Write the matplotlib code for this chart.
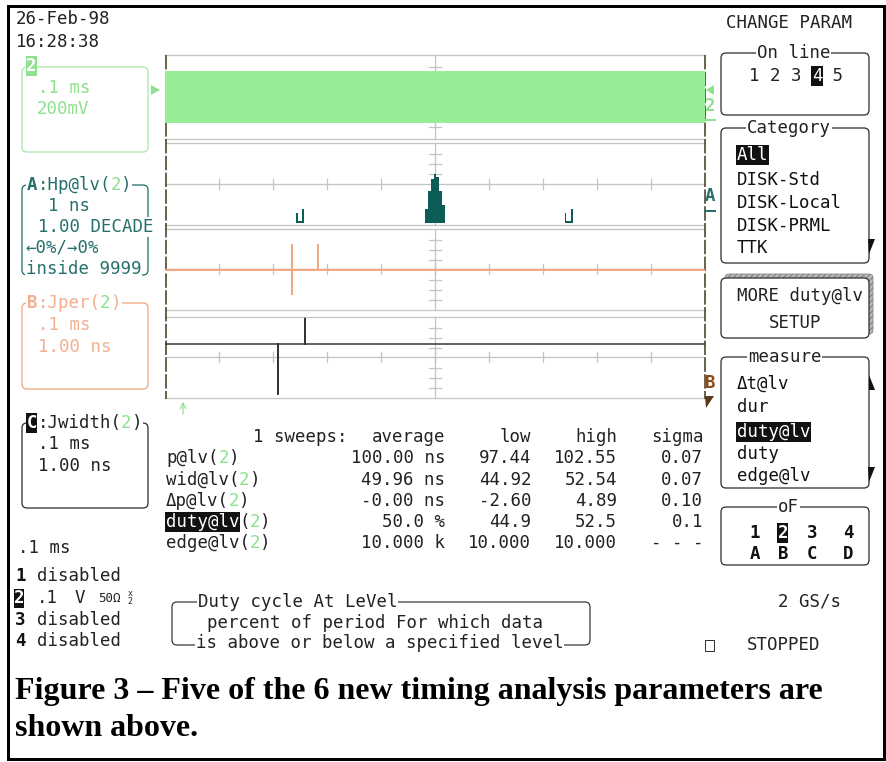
import matplotlib
matplotlib.use('Agg')
import matplotlib.pyplot as plt
from matplotlib.patches import Rectangle, FancyBboxPatch, Polygon

W, H, DPI = 887, 762, 100

# ---------------- data ----------------
date_text = "26-Feb-98"
time_text = "16:28:38"

# channel 2 trace envelope (mV) across the 1 ms record (dense 10 MHz signal -> band)
ch2_time_ms = [0.0, 1.0]
ch2_high_mV = [250, 250]
ch2_low_mV = [-250, -250]

# A: histogram of period @ level (ns): bin centres and bar heights (display units)
hist_bins_ns = [97.44, 97.47, 97.50, 97.53, 97.56,
                99.835, 99.89, 99.945, 100.0, 100.055, 100.11, 100.165,
                102.42, 102.45, 102.48, 102.51, 102.54]
hist_heights = [10, 2, 2, 2, 14,
                14, 32, 44, 49, 46, 32, 18,
                10, 2, 2, 2, 14]
hist_widths = [0.03] * 5 + [0.055] * 7 + [0.03] * 5

# B: period jitter track (ns) vs time (ms)
jper_time_ms = [0.0, 0.2349, 0.2350, 0.2351, 0.2352, 0.2829, 0.2830, 0.2831, 1.0]
jper_ns = [0.0, 0.0, 2.55, -2.56, 0.0, 0.0, 2.55, 0.0, 0.0]

# C: width jitter track (ns) vs time (ms)
jwid_time_ms = [0.0, 0.2089, 0.2090, 0.2091, 0.2589, 0.2590, 0.2591, 1.0]
jwid_ns = [0.0, 0.0, -5.04, 0.0, 0.0, 2.58, 0.0, 0.0]

# measurement table
param_names = ["p@lv", "wid@lv", "Δp@lv", "duty@lv", "edge@lv"]
col_average = ["100.00 ns", "49.96 ns", "-0.00 ns", "50.0 %", "10.000 k"]
col_low = ["97.44", "44.92", "-2.60", "44.9", "10.000"]
col_high = ["102.55", "52.54", "4.89", "52.5", "10.000"]
col_sigma = ["0.07", "0.07", "0.10", "0.1", "- - -"]

category_items = ["All", "DISK-Std", "DISK-Local", "DISK-PRML", "TTK"]
measure_items = ["Δt@lv", "dur", "duty@lv", "duty", "edge@lv"]
channel_lines = ["disabled", None, "disabled", "disabled"]

caption_lines = ["Figure 3 \u2013 Five of the 6 new timing analysis parameters are",
                 "shown above."]

# ---------------- style ----------------
GREEN_BAND = '#98ee98'
GREEN = '#8fe08f'
TEAL = '#0b5d55'
TEAL_TXT = '#27706c'
SALMON = '#f0a880'
SALMON_TXT = '#f2b08e'
BROWN = '#8a4a1c'
GRID = '#c4c4c4'
EDGE = '#4a4026'
FS = 12.5
MONO = 'DejaVu Sans Mono'
PX = 0.72  # points per pixel at 100 dpi

fig = plt.figure(figsize=(W / DPI, H / DPI), dpi=DPI, facecolor='white')


def full_axes(z):
    a = fig.add_axes([0, 0, 1, 1], zorder=z)
    a.set_xlim(0, W)
    a.set_ylim(H, 0)
    a.axis('off')
    a.patch.set_alpha(0)
    return a


bg = full_axes(0)
ov = full_axes(3)


def cw(fs=FS):
    return 0.602 * fs * DPI / 72


def mono(x, y, parts, fs=FS, ha='left', weight='normal', white_bg=False):
    total = sum(len(p[0]) for p in parts)
    c = cw(fs)
    if ha == 'right':
        cx = x - total * c
    elif ha == 'center':
        cx = x - total * c / 2
    else:
        cx = x
    for p in parts:
        txt, col = p[0], p[1]
        inv = len(p) > 2 and p[2]
        wt = p[3] if len(p) > 3 else weight
        w = len(txt) * c
        if inv:
            ov.add_patch(Rectangle((cx - 1, y - 10), w + 2, 20, fc=col, ec='none', zorder=4))
            ov.text(cx, y, txt, color='white', fontsize=fs, family=MONO, weight=wt,
                    va='center', ha='left', zorder=5)
        else:
            kw = {}
            if white_bg:
                kw['bbox'] = dict(fc='white', ec='none', pad=0.5)
            ov.text(cx, y, txt, color=col, fontsize=fs, family=MONO, weight=wt,
                    va='center', ha='left', zorder=5, **kw)
        cx += w


def rbox(x0, y0, x1, y1, ec, lw=1.3, fc='none', z=2):
    ov.add_patch(FancyBboxPatch((x0, y0), x1 - x0, y1 - y0,
                                boxstyle='round,pad=0,rounding_size=5',
                                ec=ec, fc=fc, lw=lw * PX, zorder=z))


# ---------------- outer frame ----------------
ov.add_patch(Rectangle((8, 6), 876, 753, fc='none', ec='black', lw=3 * PX, zorder=6))

# ---------------- graticule panels ----------------
X0, X1, XC = 165, 705, 435
panels = [(55, 139), (143, 225), (229, 310), (317, 398)]
for (ya, yb) in panels:
    for yy in (ya, yb):
        bg.plot([X0, X1], [yy, yy], color=GRID, lw=1.3 * PX)
    bg.plot([XC, XC], [ya, yb], color=GRID, lw=1.3 * PX)
    yc = (ya + yb) / 2
    for k in (1, 2, 3, 4):
        for s in (-1, 1):
            ty = yc + s * 10 * k
            if ya + 3 < ty < yb - 3:
                bg.plot([XC - 6, XC + 6], [ty, ty], color=GRID, lw=1.3 * PX)

# centre horizontal lines with division ticks (panels 2-4)
for (ya, yb), yc in zip(panels[1:], [184, 269, 357]):
    bg.plot([X0, X1], [yc, yc], color=GRID, lw=1.3 * PX)
    for k in range(1, 10):
        xx = X0 + 54 * k
        bg.plot([xx, xx], [yc - 5, yc + 5], color=GRID, lw=1.3 * PX)

# dashed side borders
for xx in (166, 705):
    bg.plot([xx, xx], [55, 399], color=EDGE, lw=1.6 * PX, dashes=(9, 1.5))


def panel_axes(ya, yb):
    a = fig.add_axes([X0 / W, 1 - yb / H, (X1 - X0) / W, (yb - ya) / H], zorder=1)
    a.axis('off')
    a.patch.set_alpha(0)
    return a


# panel 1: channel 2 band
a1 = panel_axes(*panels[0])
a1.fill_between(ch2_time_ms, ch2_low_mV, ch2_high_mV, color=GREEN_BAND, lw=0)
a1.set_xlim(0, 1)
a1.set_ylim(-400, 400)

# panel 2: histogram
a2 = panel_axes(*panels[1])
a2.bar(hist_bins_ns, hist_heights, width=hist_widths, color=TEAL, lw=0, align='center')
a2.set_xlim(95, 105)
a2.set_ylim(-2, 80)

# panel 3: Jper track
a3 = panel_axes(*panels[2])
a3.plot(jper_time_ms, jper_ns, color=SALMON, lw=1.3 * PX, solid_joinstyle='miter')
a3.plot([0, 1], [0, 0], color=SALMON, lw=2.0 * PX)
a3.set_xlim(0, 1)
a3.set_ylim(-4.05, 4.05)

# panel 4: Jwidth track
a4 = panel_axes(*panels[3])
a4.plot(jwid_time_ms, jwid_ns, color='#333333', lw=1.5 * PX)
a4.set_xlim(0, 1)
a4.set_ylim(-5.4, 2.7)

# trace markers
ov.add_patch(Polygon([(151, 85), (160, 90), (151, 95)], closed=True, fc=GREEN, ec='none'))
ov.add_patch(Polygon([(714, 85), (706, 90), (714, 95)], closed=True, fc=GREEN, ec='none'))
mono(705, 106, [("2", GREEN)], weight='bold')
ov.plot([705, 715], [120, 120], color=GREEN, lw=2 * PX)
mono(705, 196, [("A", TEAL_TXT)], weight='bold')
ov.plot([705, 715], [211, 211], color=TEAL_TXT, lw=2 * PX)
mono(705, 383, [("B", BROWN)], weight='bold')
ov.add_patch(Polygon([(705, 396), (714, 396), (706, 408)], closed=True, fc='#5a3a1a', ec='none'))
ov.annotate('', xy=(183, 399), xytext=(183, 417),
            arrowprops=dict(arrowstyle='->', color=GREEN, lw=1.2 * PX))

# ---------------- top-left ----------------
mono(16, 19, [(date_text, '#222222')])
mono(16, 42, [(time_text, '#222222')])

rbox(22, 67, 148, 152, '#a8e8a8')
ov.add_patch(Rectangle((26, 56), 11, 20, fc=GREEN, ec='none', zorder=4))
ov.text(31.5, 66, "2", color='white', fontsize=FS, family=MONO, weight='bold',
        va='center', ha='center', zorder=5)
mono(38, 88, [(".1 ms", GREEN)])
mono(37, 109, [("200mV", GREEN)])

# A box
rbox(22, 185, 148, 275, TEAL_TXT)
mono(27, 185, [("A", TEAL_TXT, False, 'bold'), (":Hp@lv(", TEAL_TXT), ("2", GREEN), (")", TEAL_TXT)],
     white_bg=True)
mono(48, 206, [("1 ns", TEAL_TXT)])
mono(38, 227, [("1.00 DECADE", TEAL_TXT)], white_bg=True)
mono(25, 248, [("←0%/→0%", TEAL_TXT)], white_bg=True)
mono(26, 269, [("inside 9999", TEAL_TXT)], white_bg=True)

# B box
rbox(22, 303, 148, 389, SALMON)
mono(27, 303, [("B", SALMON_TXT, False, 'bold'), (":Jper(", SALMON_TXT), ("2", GREEN), (")", SALMON_TXT)],
     white_bg=True)
mono(38, 325, [(".1 ms", SALMON_TXT)])
mono(38, 347, [("1.00 ns", SALMON_TXT)])

# C box
rbox(22, 423, 148, 508, '#333333')
mono(27, 423, [("C", '#111111', True)], weight='bold')
mono(27 + cw(), 423, [(":Jwidth(", '#222222'), ("2", GREEN), (")", '#222222')], white_bg=True)
mono(38, 444, [(".1 ms", '#222222')])
mono(38, 466, [("1.00 ns", '#222222')])

mono(18, 548, [(".1 ms", '#222222')])

# ---------------- measurement table ----------------
mono(253, 437, [("1 sweeps:", '#222222')])
for txt, xr in zip(["average", "low", "high", "sigma"], [445, 531, 617, 703]):
    mono(xr, 437, [(txt, '#222222')], ha='right')
row_y = [458, 480, 501, 522, 543]
for i, name in enumerate(param_names):
    y = row_y[i]
    if name == "duty@lv":
        mono(166, y, [(name, '#111111', True), ("(", '#222222'), ("2", GREEN), (")", '#222222')])
    else:
        mono(166, y, [(name + "(", '#222222'), ("2", GREEN), (")", '#222222')])
    mono(445, y, [(col_average[i], '#222222')], ha='right')
    mono(531, y, [(col_low[i], '#222222')], ha='right')
    mono(617, y, [(col_high[i], '#222222')], ha='right')
    mono(703, y, [(col_sigma[i], '#222222')], ha='right')

# ---------------- bottom-left channel list ----------------
ch_y = [576, 598, 620, 641]
for i, txt in enumerate(channel_lines):
    if i == 1:
        ov.add_patch(Rectangle((14, 589), 10, 19, fc='#111111', ec='none', zorder=4))
        ov.text(19, ch_y[i], "2", color='white', fontsize=FS, family=MONO, weight='bold',
                va='center', ha='center', zorder=5)
        mono(37, ch_y[i], [(".1", '#222222')])
        mono(75, ch_y[i], [("V", '#222222')])
        mono(98, ch_y[i], [("50Ω", '#222222')], fs=9)
        ov.text(130, 593, "x", fontsize=6, family=MONO, color='#222222', ha='center', va='center')
        ov.text(130, 602, "2", fontsize=6, family=MONO, color='#222222', ha='center', va='center')
    else:
        mono(15, ch_y[i], [(str(i + 1), '#111111')], weight='bold')
        mono(37, ch_y[i], [(txt, '#222222')])

# description box
rbox(172, 602, 590, 645, '#333333', lw=1.2)
mono(198, 602, [("Duty cycle At LeVel", '#222222')], white_bg=True)
mono(207, 623, [("percent of period For which data", '#222222')])
mono(196, 643, [("is above or below a specified level", '#222222')], white_bg=True)

# ---------------- right-side menu ----------------
mono(726, 23, [("CHANGE PARAM", '#222222')])

rbox(721, 53, 869, 115, '#333333')
mono(757, 53, [("On line", '#222222')], white_bg=True)
mono(749, 76, [("1 2 3 ", '#222222'), ("4", '#111111', True), (" 5", '#222222')])

rbox(721, 128, 869, 263, '#333333')
mono(747, 128, [("Category", '#222222')], white_bg=True)
for i, item in enumerate(category_items):
    y = [155, 180, 203, 226, 248][i]
    mono(737, y, [(item, '#111111', i == 0)])
ov.add_patch(Polygon([(868, 239), (875, 239), (869, 254)], closed=True, fc='#111111', ec='none', zorder=5))

# MORE box with hatched shadow
ov.add_patch(FancyBboxPatch((725, 274), 148, 60, boxstyle='round,pad=0,rounding_size=4',
                            fc='#bbbbbb', ec='#888888', hatch='//////', lw=0.6, zorder=1))
rbox(721, 278, 869, 338, '#333333', fc='white', z=2)
mono(737, 296, [("MORE duty@lv", '#222222')])
mono(795, 323, [("SETUP", '#222222')], ha='center')

rbox(721, 357, 869, 488, '#333333')
mono(748, 357, [("measure", '#222222')], white_bg=True)
for i, item in enumerate(measure_items):
    y = [384, 407, 432, 454, 476][i]
    mono(737, y, [(item, '#111111', i == 2)])
ov.add_patch(Polygon([(869, 375), (875, 390), (869, 390)], closed=True, fc='#111111', ec='none', zorder=5))
ov.add_patch(Polygon([(868, 467), (875, 467), (869, 482)], closed=True, fc='#111111', ec='none', zorder=5))

rbox(721, 507, 869, 565, '#333333')
mono(778, 507, [("oF", '#222222')], white_bg=True)
for xx, top, bot in zip([755, 783, 812, 848], ["1", "2", "3", "4"], ["A", "B", "C", "D"]):
    if top == "2":
        ov.add_patch(Rectangle((xx - 5.5, 523), 11, 20, fc='#111111', ec='none', zorder=4))
        ov.text(xx, 533, top, color='white', fontsize=FS, family=MONO, weight='bold',
                ha='center', va='center', zorder=5)
    else:
        ov.text(xx, 533, top, color='#111111', fontsize=FS, family=MONO, weight='bold',
                ha='center', va='center', zorder=5)
    ov.text(xx, 554, bot, color='#111111', fontsize=FS, family=MONO, weight='bold',
            ha='center', va='center', zorder=5)

mono(778, 602, [("2 GS/s", '#222222')])
ov.add_patch(Rectangle((705, 640), 9, 11, fc='none', ec='#333333', lw=1.0 * PX, zorder=5))
mono(747, 645, [("STOPPED", '#222222')])

# ---------------- caption ----------------
ov.text(15, 692, caption_lines[0], fontsize=23, family='Liberation Serif', weight='bold',
        color='black', va='center', ha='left')
ov.text(15, 729, caption_lines[1], fontsize=23, family='Liberation Serif', weight='bold',
        color='black', va='center', ha='left')

fig.savefig('out.png', dpi=DPI, facecolor='white')
